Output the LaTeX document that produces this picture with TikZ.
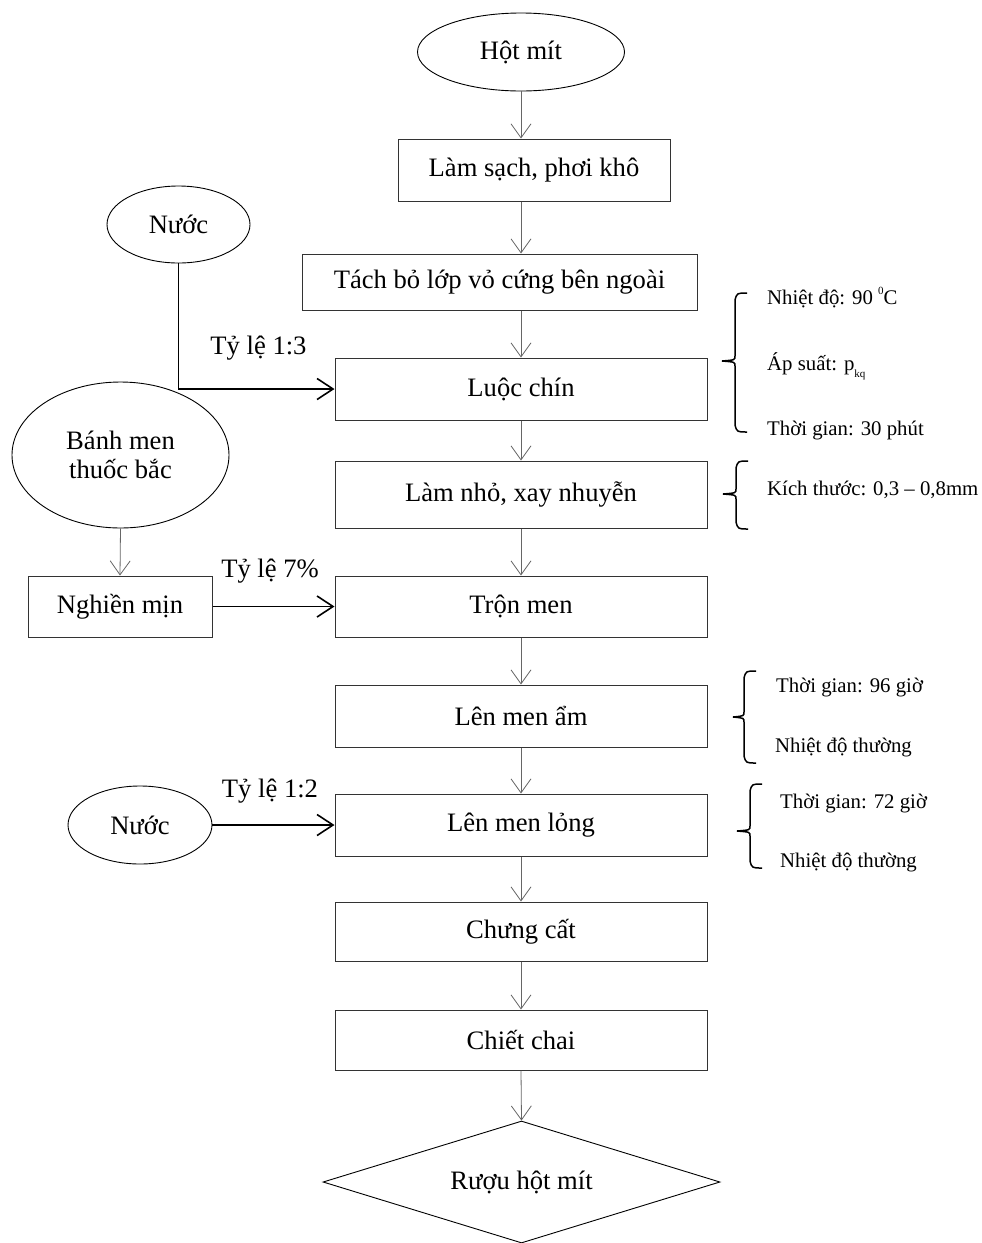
\documentclass[tikz,border=0pt]{standalone}
\usepackage{fontspec}
\setmainfont{Liberation Serif}
\usetikzlibrary{shapes.geometric,arrows.meta,calc}
\newcommand\wordbrace[5]{%
  \draw[bracestyle] (#1+12,#2) .. controls (#1+2,#2) .. (#1,#2+7) -- (#1,#3-5)
    .. controls (#1,#3-1) .. (#5,#3) .. controls (#1,#3+1) .. (#1,#3+5)
    -- (#1,#4-7) .. controls (#1+2,#4) .. (#1+12,#4);}
\tikzset{
  bigtext/.style={font=\fontsize{26.6}{29}\selectfont},
  smalltext/.style={font=\fontsize{20.8}{24}\selectfont},
  stepbox/.style={draw=black!80, line width=1pt, rectangle, inner sep=0pt, bigtext},
  ovalnode/.style={draw=black, line width=0.9pt, ellipse, inner sep=0pt, bigtext, align=center},
  thinarrow/.style={draw=black!60, line width=0.8pt, -{Straight Barb[length=14pt,width=20pt,line width=0.8pt]}},
  thickarrow/.style={draw=black, line width=1.6pt, -{Straight Barb[length=16pt,width=21pt,line width=1.6pt]}},
  bracestyle/.style={draw=black, line width=1.5pt},
  sidelabel/.style={smalltext, anchor=base west, inner sep=0pt},
  ratiolabel/.style={bigtext, inner sep=0pt}
}
\begin{document}
\begin{tikzpicture}[x=1pt,y=-1pt]
\useasboundingbox (0,0) rectangle (982,1243);
% main column
\node[ovalnode, minimum width=207pt, minimum height=78pt] (h) at (521,52) {Hột mít};
\node[stepbox, minimum width=272pt, minimum height=62pt] (b1) at (534,170) {Làm sạch, phơi khô};
\node[stepbox, minimum width=395pt, minimum height=56pt] (b2) at (499.5,282) {Tách bỏ lớp vỏ cứng bên ngoài};
\node[stepbox, minimum width=372pt, minimum height=62pt] (b3) at (521,389) {Luộc chín};
\node[stepbox, minimum width=372pt, minimum height=67pt] (b4) at (521,494.5) {Làm nhỏ, xay nhuyễn};
\node[stepbox, minimum width=372pt, minimum height=61pt] (b5) at (521,606.5) {Trộn men};
\node[stepbox, minimum width=372pt, minimum height=62pt] (b6) at (521,716) {Lên men ẩm};
\node[stepbox, minimum width=372pt, minimum height=62pt] (b7) at (521,825) {Lên men lỏng};
\node[stepbox, minimum width=372pt, minimum height=59pt] (b8) at (521,931.5) {Chưng cất};
\node[stepbox, minimum width=372pt, minimum height=60pt] (b9) at (521,1040) {Chiết chai};
\node[draw=black, line width=0.9pt, diamond, aspect=3.25, inner sep=0pt, minimum width=397pt, minimum height=122pt, bigtext] (d) at (521.5,1182) {Rượu hột mít};
% side inputs
\node[ovalnode, minimum width=143pt, minimum height=77pt] (n1) at (178.5,224.5) {Nước};
\node[ovalnode, minimum width=217pt, minimum height=146pt] (bm) at (120.5,455) {Bánh men\\thuốc bắc};
\node[stepbox, minimum width=184pt, minimum height=61pt] (nm) at (120,606.5) {Nghiền mịn};
\node[ovalnode, minimum width=144pt, minimum height=78pt] (n2) at (140,825) {Nước};
% main arrows
\draw[thinarrow] (h.south) -- (h.south |- b1.north);
\draw[thinarrow] (b1.south -| h.south) -- (b2.north -| h.south);
\draw[thinarrow] (b2.south -| h.south) -- (b3.north -| h.south);
\draw[thinarrow] (b3.south -| h.south) -- (b4.north -| h.south);
\draw[thinarrow] (b4.south -| h.south) -- (b5.north -| h.south);
\draw[thinarrow] (b5.south -| h.south) -- (b6.north -| h.south);
\draw[thinarrow] (b6.south -| h.south) -- (b7.north -| h.south);
\draw[thinarrow] (b7.south -| h.south) -- (b8.north -| h.south);
\draw[thinarrow] (b8.south -| h.south) -- (b9.north -| h.south);
\draw[thinarrow] (b9.south -| h.south) -- (d.north);
% side arrows
\draw[thickarrow] (n1.south) |- (b3.west);
\draw[thinarrow] (bm.south) -- (nm.north);
\draw[thickarrow] (nm.east) -- (b5.west);
\draw[thickarrow] (n2.east) -- (b7.west);
\node[ratiolabel] (r1) at (258.5,348) {Tỷ lệ 1:3};
\node[ratiolabel] (r2) at (270,571) {Tỷ lệ 7\%};
\node[ratiolabel] (r3) at (270,791) {Tỷ lệ 1:2};
% braces and conditions
\wordbrace{735}{293}{361}{432}{722}
\node[sidelabel] (t1) at (767,304) {Nhiệt độ: 90 \raisebox{10pt}{\fontsize{11}{11}\selectfont 0}C};
\node[sidelabel] (t2) at (767,370) {Áp suất: p\raisebox{-7pt}{\fontsize{11}{11}\selectfont kq}};
\node[sidelabel] (t3) at (767,435) {Thời gian: 30 phút};
\wordbrace{736}{461}{494}{529}{723}
\node[sidelabel] (t4) at (767,495) {Kích thước: 0,3 – 0,8mm};
\wordbrace{744}{671}{717}{763}{733}
\node[sidelabel] (t5) at (776,692) {Thời gian: 96 giờ};
\node[sidelabel] (t6) at (775,752) {Nhiệt độ thường};
\wordbrace{750}{784}{831}{868}{737}
\node[sidelabel] (t7) at (780,808) {Thời gian: 72 giờ};
\node[sidelabel] (t8) at (780,867) {Nhiệt độ thường};
\end{tikzpicture}
\end{document}
